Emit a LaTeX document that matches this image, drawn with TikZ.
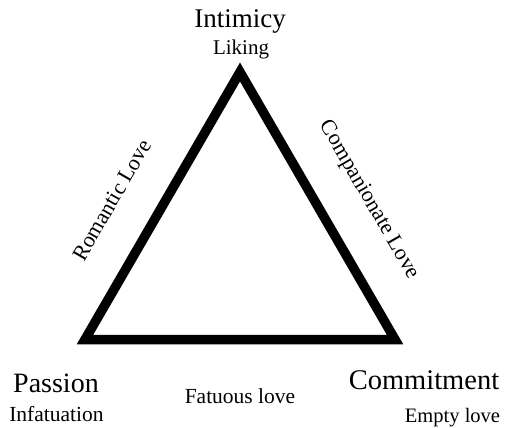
\documentclass[tikz,border=0pt]{standalone}
\usepackage{fontspec}
\setmainfont{Liberation Serif}
\begin{document}
\begin{tikzpicture}[x=1pt,y=-1pt,
  vertex/.style={anchor=base,inner sep=0pt,font=\fontsize{28}{30}\selectfont},
  kind/.style={anchor=base,inner sep=0pt,font=\fontsize{21.5}{24}\selectfont},
  side/.style={anchor=center,inner sep=0pt,font=\fontsize{22}{24}\selectfont}]
\useasboundingbox[fill=white] (0,0) rectangle (512,428);
% corners of the triangle
\coordinate (I) at (240,72);
\coordinate (P) at (85,339.5);
\coordinate (C) at (395,339.5);
\draw[line width=9.5pt,line join=miter] (I) -- (P) -- (C) -- cycle;
% vertex names and their single-component forms
\node[vertex,font=\fontsize{27}{29}\selectfont] (intimacy) at (240,28) {Intimicy};
\node[kind,font=\fontsize{21}{23}\selectfont] (liking) at (241,55) {Liking};
\node[vertex] (passion) at (56,392) {Passion};
\node[kind] (infat) at (56.5,421) {Infatuation};
\node[vertex,font=\fontsize{28.5}{30}\selectfont] (commit) at (424,389) {Commitment};
\node[kind,font=\fontsize{20.5}{23}\selectfont] (empty) at (452.5,422) {Empty love};
\node[kind] (fatuous) at (240,403) {Fatuous love};
% two-component forms along the sides
\node[side,rotate=60] (romantic) at (112,200) {Romantic Love};
\node[side,rotate=-60] (compan) at (369,200) {Companionate Love};
\end{tikzpicture}
\end{document}
